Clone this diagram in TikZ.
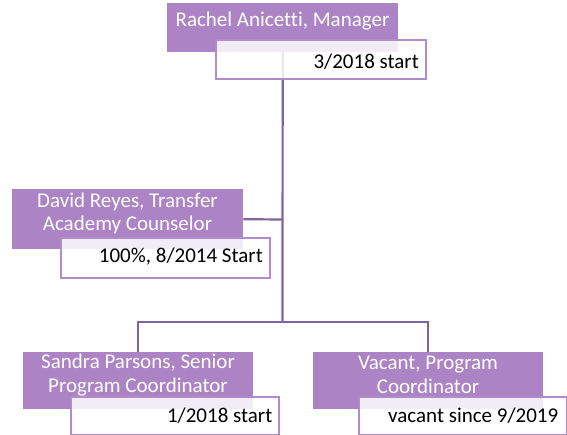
\documentclass[tikz,border=0pt]{standalone}
\usepackage{fontspec}
\setmainfont{Carlito}[Ligatures=NoCommon]
\definecolor{pfill}{RGB}{172,131,196}
\definecolor{pline}{RGB}{128,100,162}
\definecolor{wline}{RGB}{176,140,203}
\begin{document}
\begin{tikzpicture}[x=1pt,y=-1pt,
  pbox/.style={fill=pfill, draw=none, inner sep=0pt, anchor=north west},
  wbox/.style={fill=white, fill opacity=0.85, draw=wline, draw opacity=1, line width=2pt, inner sep=0pt, anchor=north west},
  ptext/.style={text=white, font=\fontsize{21}{23.5}\selectfont, align=center, inner sep=0pt},
  wtext/.style={text=black, font=\fontsize{21}{23.5}\selectfont, anchor=east, inner sep=0pt},
  conn/.style={draw=pline, line width=2.2pt}]
\useasboundingbox (0,0) rectangle (567,435);
% purple boxes
\node[pbox, minimum width=231pt, minimum height=49pt] (rachel) at (167,3) {};
\node[pbox, minimum width=231pt, minimum height=60pt] (david) at (12,189) {};
\node[pbox, minimum width=230pt, minimum height=57pt] (sandra) at (23,352) {};
\node[pbox, minimum width=230pt, minimum height=57pt] (vacant) at (313,352) {};
% connectors
\coordinate (hub) at (282.5,322);
\coordinate (dj) at (282.5,219.5);
\draw[conn] (rachel.south) -- (hub);
\draw[conn] (dj) -- (david.east);
\draw[conn] (sandra.north) |- (hub) -| (vacant.north);
% white boxes
\node[wbox, minimum width=210pt, minimum height=39pt] (rachelw) at (214.5,39.5) {};
\node[wbox, minimum width=209pt, minimum height=40pt] (davidw) at (60,237) {};
\node[wbox, minimum width=208pt, minimum height=38pt] (sandraw) at (70,396) {};
\node[wbox, minimum width=208pt, minimum height=38pt] (vacantw) at (358,396) {};
% texts
\node[ptext] (rachelt) at (282.5,21.5) {Rachel Anicetti, Manager};
\node[ptext] (davidt) at (127.5,213.5) {David Reyes, Transfer\\Academy Counselor};
\node[ptext] (sandrat) at (138,375) {Sandra Parsons, Senior\\Program Coordinator};
\node[ptext] (vacantt) at (428,375) {Vacant, Program\\Coordinator};
\node[wtext] (rachelwt) at (419,62) {3/2018 start};
\node[wtext] (davidwt) at (263,257) {100\%, 8/2014 Start};
\node[wtext] (sandrawt) at (272.5,416) {1/2018 start};
\node[wtext] (vacantwt) at (558.5,416) {vacant since 9/2019};
\end{tikzpicture}
\end{document}
